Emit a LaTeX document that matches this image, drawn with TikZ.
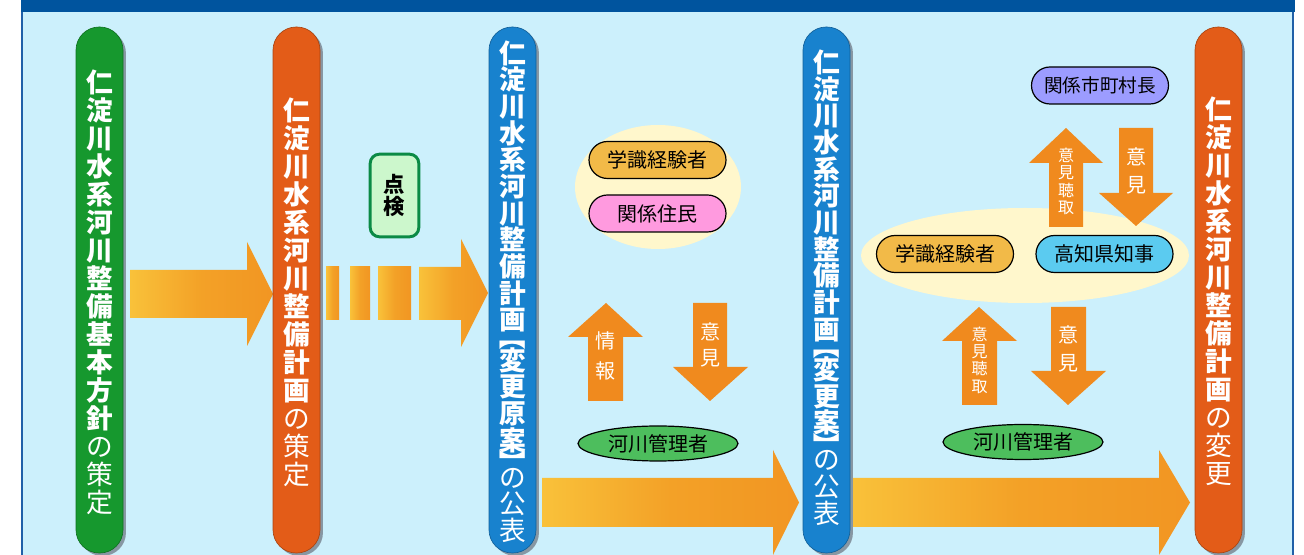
\documentclass[tikz,border=0pt]{standalone}
\usepackage{fontspec}
\usepackage{graphicx}
\setmainfont{Noto Sans CJK JP}
\usetikzlibrary{shapes.misc,shapes.geometric,shadows}
\definecolor{bandc}{HTML}{00549E}
\definecolor{panelc}{HTML}{CCF0FC}
\definecolor{borderc}{HTML}{2060A8}
\definecolor{pgreen}{HTML}{16982E}
\definecolor{porange}{HTML}{E35C18}
\definecolor{pblue}{HTML}{1882CE}
\definecolor{shadowc}{HTML}{8797A3}
\definecolor{aorg}{HTML}{F08A1E}
\definecolor{aorgm}{HTML}{F3A127}
\definecolor{ayel}{HTML}{FFE24D}
\definecolor{cream}{HTML}{FFF7CC}
\definecolor{cgaku}{HTML}{F2BA48}
\definecolor{cjumin}{HTML}{FF9ADF}
\definecolor{ckanri}{HTML}{4DBE5D}
\definecolor{cshi}{HTML}{9C9CFF}
\definecolor{cchiji}{HTML}{5BCBF0}
\definecolor{tenfill}{HTML}{CCF7CC}
\definecolor{tendraw}{HTML}{0B8A45}
\pgfdeclarehorizontalshading{arrowshade}{100bp}{color(0bp)=(ayel); color(50bp)=(aorgm); color(100bp)=(aorg)}
\newcommand\mj[1]{{\mdseries #1}}
\newcommand\vbo{\raisebox{5pt}{\rotatebox[origin=c]{-90}{【}}}
\newcommand\vbc{\raisebox{-5pt}{\rotatebox[origin=c]{-90}{】}}}
\begin{document}
\begin{tikzpicture}[x=0.75pt,y=-0.75pt,
  colpill/.style={rectangle, rounded corners=17.4pt, minimum width=35.25pt, minimum height=394.5pt, inner sep=0pt, draw=#1!75!black, line width=0.5pt, fill=#1, drop shadow={shadow xshift=2.2pt, shadow yshift=-2.2pt, fill=shadowc, opacity=1}},
  vt/.style={text=white, font=\fontsize{20}{21}\selectfont\bfseries, align=center, inner sep=0pt},
  vtb/.style={vt, font=\fontsize{20}{20}\selectfont\bfseries},
  lab/.style={rounded rectangle, draw=black, line width=0.9pt, inner sep=0pt, minimum width=102.75pt, minimum height=27.75pt, font=\fontsize{15}{15}\selectfont, text=black},
  ell/.style={ellipse, draw=black, line width=0.9pt, fill=ckanri, inner sep=0pt, minimum width=120pt, minimum height=26.25pt, font=\fontsize{15}{15}\selectfont, text=black},
  creamell/.style={ellipse, fill=cream, draw=none, inner sep=0pt},
  barrow/.style={shading=arrowshade, draw=none},
  sarrow/.style={fill=aorg, draw=none},
  stxt/.style={text=white, align=center, inner sep=0pt, font=\fontsize{15}{#1}\selectfont}
]
\useasboundingbox (0,0) rectangle (1304,555);
% panel
\fill[panelc] (22,0) rectangle (1293,555);
\draw[borderc, line width=1.5pt] (22,0) -- (22,555);
\draw[borderc, line width=1.5pt] (1293,0) -- (1293,555);
\fill[bandc] (21,0) rectangle (1294.5,12.5);

% cream groups
\node[creamell, minimum width=124.5pt, minimum height=93pt] (g1) at (658,187) {};
\node[creamell, minimum width=246pt, minimum height=71.25pt] (g2) at (1025,255.5) {};

% big arrows
\shade[barrow] (130,270) -- (247,270) -- (247,242) -- (273,294) -- (247,346) -- (247,318) -- (130,318) -- cycle;
\shade[barrow] (326,267) rectangle (339,320);
\shade[barrow] (350,267) rectangle (370,320);
\shade[barrow] (378,267) rectangle (411,320);
\shade[barrow] (419,267) -- (461,267) -- (461,239) -- (488,293) -- (461,347) -- (461,320) -- (419,320) -- cycle;
\shade[barrow] (542,478) -- (773,478) -- (773,450) -- (799,502.5) -- (773,555) -- (773,527) -- (542,527) -- cycle;
\shade[barrow] (850,478) -- (1159,478) -- (1159,450) -- (1190,502.5) -- (1159,555) -- (1159,527) -- (850,527) -- cycle;

% column pills
\node[colpill=pgreen] (c1) at (99.5,290) {};
\node[colpill=porange] (c2) at (296.5,290) {};
\node[colpill=pblue] (c3) at (512.5,290) {};
\node[colpill=pblue] (c4) at (826.5,290) {};
\node[colpill=porange] (c5) at (1218.5,290) {};

\node[vt] (t1) at (99.5,292) {仁\\淀\\川\\水\\系\\河\\川\\整\\備\\基\\本\\方\\針\\\mj{の}\\\mj{策}\\\mj{定}};
\node[vt] (t2) at (296.5,292) {仁\\淀\\川\\水\\系\\河\\川\\整\\備\\計\\画\\\mj{の}\\\mj{策}\\\mj{定}};
\node[vtb] (t3) at (512.5,291.5) {仁\\淀\\川\\水\\系\\河\\川\\整\\備\\計\\画\\[-7.6pt]\vbo\\[-7.6pt]変\\更\\原\\案\\[-7.6pt]\vbc\\[-7.6pt]\mj{の}\\\mj{公}\\\mj{表}};
\node[vtb] (t4) at (826.5,287.5) {仁\\淀\\川\\水\\系\\河\\川\\整\\備\\計\\画\\[-7.6pt]\vbo\\[-7.6pt]変\\更\\案\\[-7.6pt]\vbc\\[-7.6pt]\mj{の}\\\mj{公}\\\mj{表}};
\node[vt] (t5) at (1218.5,291.5) {仁\\淀\\川\\水\\系\\河\\川\\整\\備\\計\\画\\\mj{の}\\\mj{変}\\\mj{更}};

% tenken
\node[rectangle, rounded corners=7pt, draw=tendraw, line width=2.2pt, fill=tenfill, minimum width=36.5pt, minimum height=62pt, inner sep=0pt, align=center, font=\fontsize{16}{17}\selectfont\bfseries] (ten) at (394.5,195.5) {点\\検};

% group 1
\node[lab, fill=cgaku] (gaku1) at (657.5,160) {学識経験者};
\node[lab, fill=cjumin] (jumin) at (657.5,213.5) {関係住民};
\node[ell] (kanri1) at (658,443.5) {河川管理者};
\fill[sarrow] (606,303) -- (643,337) -- (623,337) -- (623,401) -- (588,401) -- (588,337) -- (568,337) -- cycle;
\node[stxt=22.5] (joho) at (605.5,356) {情\\報};
\fill[sarrow] (693,303) -- (727,303) -- (727,367) -- (748,367) -- (710,401) -- (673,367) -- (693,367) -- cycle;
\node[stxt=19.5] (iken1) at (710,344.5) {意\\見};

% group 2
\node[lab, fill=cshi, font=\fontsize{14}{14}\selectfont] (shi) at (1100,85.5) {関係市町村長};
\node[lab, fill=cgaku] (gaku2) at (945,254) {学識経験者};
\node[lab, fill=cchiji] (chiji) at (1104.5,254) {高知県知事};
\node[ell] (kanri2) at (1023,442) {河川管理者};
\fill[sarrow] (1066,128) -- (1103,163) -- (1083,163) -- (1083,227) -- (1049,227) -- (1049,163) -- (1029,163) -- cycle;
\node[stxt=13, font=\fontsize{12}{13}\selectfont] (cho1) at (1066,181.5) {意\\見\\聴\\取};
\fill[sarrow] (1119,128) -- (1153,128) -- (1153,193) -- (1173,193) -- (1136,226) -- (1099,193) -- (1119,193) -- cycle;
\node[stxt=21] (iken2) at (1136,170.5) {意\\見};
\fill[sarrow] (979,307) -- (1017,341) -- (997,341) -- (997,405) -- (962,405) -- (962,341) -- (942,341) -- cycle;
\node[stxt=13, font=\fontsize{12}{13}\selectfont] (cho2) at (979.5,360) {意\\見\\聴\\取};
\fill[sarrow] (1051,307) -- (1086,307) -- (1086,371) -- (1106,371) -- (1068,405) -- (1031,371) -- (1051,371) -- cycle;
\node[stxt=21] (iken3) at (1068,348.5) {意\\見};
\end{tikzpicture}
\end{document}
